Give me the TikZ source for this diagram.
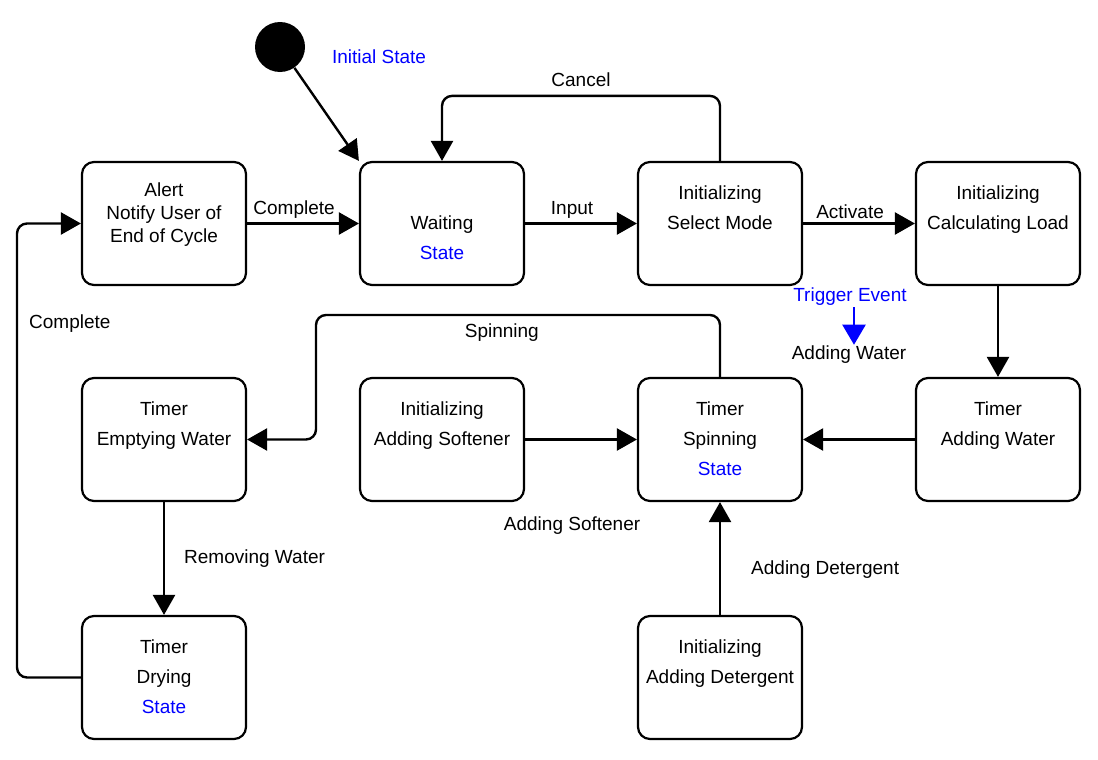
\documentclass[tikz,border=0pt]{standalone}
\usepackage{fontspec}
\setmainfont{Liberation Sans}
\usetikzlibrary{arrows.meta}
\definecolor{stateblue}{RGB}{0,0,255}
\newcommand{\threelines}[3]{\strut#1\\\strut#2\\\strut#3}

\begin{document}
\begin{tikzpicture}[x=0.5pt, y=-0.5pt,
    state/.style={draw, line width=1.1pt, rounded corners=6pt, minimum width=82pt, minimum height=61.5pt, inner sep=0pt, align=center, font=\fontsize{9.5}{15}\selectfont},
    trans/.style={-{Triangle[length=10pt,width=11pt]}, line width=1.2pt, rounded corners=5pt},
    evarrow/.style={-{Triangle[length=10pt,width=11.5pt]}, line width=1.1pt, draw=stateblue, fill=stateblue},
    lbl/.style={font=\fontsize{9.5}{11}\selectfont, inner sep=2pt}
    ]
    \useasboundingbox (0,0) rectangle (1098,760);

    % initial state
    \node[circle, fill, minimum size=25pt, inner sep=0pt] (init) at (280,47) {};
    \node[lbl, text=stateblue] (initlbl) at (379,57) {Initial State};

    % states
    \node[state, font=\fontsize{9.5}{11.5}\selectfont] (alert) at (164,223.5) {\rule{0pt}{11pt}Alert\\\strut Notify User of\\\strut End of Cycle\\\strut};
    \node[state] (waiting) at (442,223.5) {\threelines{}{Waiting}{\textcolor{stateblue}{State}}};
    \node[state] (select) at (720,223.5) {\threelines{Initializing}{Select Mode}{}};
    \node[state] (calc) at (998,223.5) {\threelines{Initializing}{Calculating Load}{}};
    \node[state] (empty) at (164,439.5) {\threelines{Timer}{Emptying Water}{}};
    \node[state] (soft) at (442,439.5) {\threelines{Initializing}{Adding Softener}{}};
    \node[state] (spin) at (720,439.5) {\threelines{Timer}{Spinning}{\textcolor{stateblue}{State}}};
    \node[state] (water) at (998,439.5) {\threelines{Timer}{Adding Water}{}};
    \node[state] (drying) at (164,677.5) {\threelines{Timer}{Drying}{\textcolor{stateblue}{State}}};
    \node[state] (det) at (720,677.5) {\threelines{Initializing}{Adding Detergent}{}};

    % trigger event note
    \node[lbl, text=stateblue] (trigger) at (850,297) {Trigger Event};
    \node[lbl] (addwlbl) at (849,355) {Adding Water};
    \draw[evarrow] ([xshift=2pt, yshift=1.5pt]trigger.south) -- ([xshift=2.5pt, yshift=-1.5pt]addwlbl.north);

    % transitions
    \draw[trans] (init) -- (waiting.north west);
    \draw[trans] (alert) -- node[lbl, pos=0.42, above] {Complete} (waiting);
    \draw[trans] (waiting) -- node[lbl, pos=0.42, above] {Input} (select);
    \draw[trans] (select) -- node[lbl, pos=0.42, above] {Activate} (calc);
    \draw[trans] (select.north) -- ++(0,-65) -| node[lbl, pos=0.25, above=2pt] {Cancel} (waiting.north);
    \draw[trans] (calc) -- (water);
    \draw[trans] (water) -- (spin);
    \draw[trans] (soft) -- node[lbl, pos=0.42, below=36pt] {Adding Softener} (spin);
    \draw[trans] (det) -- node[lbl, pos=0.4, right=13pt] {Adding Detergent} (spin);
    \draw[trans] (spin.north) |- node[lbl, pos=0.77, below=2pt] {Spinning} (316,315) |- (empty.east);
    \draw[trans] (empty) -- node[lbl, midway, right=7.5pt] {Removing Water} (drying);
    \draw[trans] (drying.west) -| node[lbl, pos=0.89, right=3.5pt] {Complete} (17,223.5) -- (alert.west);
\end{tikzpicture}
\end{document}
